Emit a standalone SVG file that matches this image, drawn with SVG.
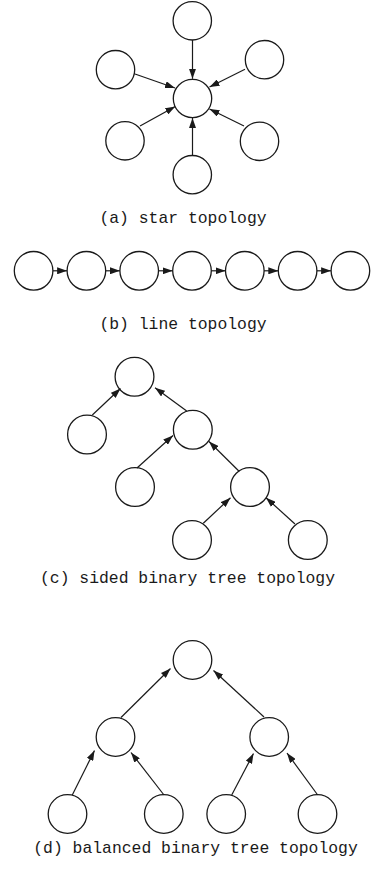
<svg xmlns="http://www.w3.org/2000/svg" width="372" height="870" viewBox="0 0 372 870">
  <style>
    .node { fill: #ffffff; stroke: #1a1a1a; stroke-width: 1.3; }
    .edge { fill: none; stroke: #1a1a1a; stroke-width: 1.2; marker-end: url(#head); }
    .caption { font-family: "Liberation Mono", "DejaVu Sans Mono", monospace; font-size: 16.4px; fill: #1a1a1a; text-anchor: middle; }
  </style>
  <defs>
    <marker id="head" markerUnits="userSpaceOnUse" markerWidth="10" markerHeight="7" refX="10" refY="3.5" orient="auto">
      <path d="M0,0 L10,3.5 L0,7 Z" fill="#1a1a1a"/>
    </marker>
  </defs>
  <rect width="372" height="870" fill="#ffffff"/>

  <!-- (a) star topology -->
  <g id="star-hub"><circle class="node" cx="192.5" cy="98.5" r="19.2"/></g>
  <g id="star-n"><circle class="node" cx="192.3" cy="20.8" r="19.2"/></g>
  <g id="star-ne"><circle class="node" cx="264.5" cy="59.7" r="19.2"/></g>
  <g id="star-nw"><circle class="node" cx="115.5" cy="69.7" r="19.2"/></g>
  <g id="star-sw"><circle class="node" cx="125" cy="140.8" r="19.2"/></g>
  <g id="star-se"><circle class="node" cx="259.5" cy="141.3" r="19.2"/></g>
  <g id="star-s"><circle class="node" cx="192.3" cy="174.7" r="19.2"/></g>

  <!-- (b) line topology -->
  <g id="line-1"><circle class="node" cx="33.6" cy="270.8" r="19.3"/></g>
  <g id="line-2"><circle class="node" cx="86.4" cy="270.8" r="19.3"/></g>
  <g id="line-3"><circle class="node" cx="139.2" cy="270.8" r="19.3"/></g>
  <g id="line-4"><circle class="node" cx="192" cy="270.8" r="19.3"/></g>
  <g id="line-5"><circle class="node" cx="244.8" cy="270.8" r="19.3"/></g>
  <g id="line-6"><circle class="node" cx="297.6" cy="270.8" r="19.3"/></g>
  <g id="line-7"><circle class="node" cx="350.4" cy="270.8" r="19.3"/></g>

  <!-- (c) sided binary tree topology -->
  <g id="sided-root"><circle class="node" cx="134.5" cy="376.7" r="19.4"/></g>
  <g id="sided-l1"><circle class="node" cx="87" cy="434.5" r="19.4"/></g>
  <g id="sided-r1"><circle class="node" cx="192.8" cy="429.8" r="19.4"/></g>
  <g id="sided-l2"><circle class="node" cx="135" cy="487" r="19.4"/></g>
  <g id="sided-r2"><circle class="node" cx="250" cy="487" r="19.4"/></g>
  <g id="sided-l3"><circle class="node" cx="192" cy="540" r="19.4"/></g>
  <g id="sided-r3"><circle class="node" cx="307.8" cy="540" r="19.4"/></g>

  <!-- (d) balanced binary tree topology -->
  <g id="bal-root"><circle class="node" cx="192.5" cy="660" r="19.3"/></g>
  <g id="bal-l"><circle class="node" cx="115.5" cy="737" r="19.3"/></g>
  <g id="bal-r"><circle class="node" cx="269.2" cy="737" r="19.3"/></g>
  <g id="bal-ll"><circle class="node" cx="67.5" cy="814" r="19.3"/></g>
  <g id="bal-lr"><circle class="node" cx="163.8" cy="814" r="19.3"/></g>
  <g id="bal-rl"><circle class="node" cx="226.2" cy="814" r="19.3"/></g>
  <g id="bal-rr"><circle class="node" cx="317.5" cy="814" r="19.3"/></g>

  <g id="connectors">
    <!-- star: every leaf points at the hub -->
    <line class="edge" x1="192.5" y1="40" x2="192.5" y2="78.8"/>
    <line class="edge" x1="245" y1="69.3" x2="209.5" y2="87"/>
    <line class="edge" x1="135" y1="74" x2="175" y2="88"/>
    <line class="edge" x1="140" y1="126" x2="175.3" y2="106.5"/>
    <line class="edge" x1="244" y1="126" x2="209.5" y2="109"/>
    <line class="edge" x1="192.5" y1="155.5" x2="192.5" y2="118"/>

    <!-- line: chain left to right -->
    <line class="edge" x1="52.9" y1="270.8" x2="67.1" y2="270.8"/>
    <line class="edge" x1="105.7" y1="270.8" x2="119.9" y2="270.8"/>
    <line class="edge" x1="158.5" y1="270.8" x2="172.7" y2="270.8"/>
    <line class="edge" x1="211.3" y1="270.8" x2="225.5" y2="270.8"/>
    <line class="edge" x1="264.1" y1="270.8" x2="278.3" y2="270.8"/>
    <line class="edge" x1="316.9" y1="270.8" x2="331.1" y2="270.8"/>

    <!-- sided tree: children point at parents -->
    <line class="edge" x1="92.3" y1="415" x2="120.5" y2="388.5"/>
    <line class="edge" x1="186.7" y1="411" x2="155" y2="387.7"/>
    <line class="edge" x1="137" y1="468" x2="173" y2="435.5"/>
    <line class="edge" x1="239.3" y1="471.5" x2="209" y2="441.5"/>
    <line class="edge" x1="203.3" y1="523.3" x2="230.5" y2="497.7"/>
    <line class="edge" x1="295" y1="524" x2="266" y2="497.7"/>

    <!-- balanced tree: children point at parents -->
    <line class="edge" x1="121" y1="717.5" x2="170.5" y2="668.5"/>
    <line class="edge" x1="264" y1="717" x2="213.5" y2="670.5"/>
    <line class="edge" x1="72.3" y1="795" x2="94.5" y2="750.5"/>
    <line class="edge" x1="164" y1="795" x2="131" y2="752.5"/>
    <line class="edge" x1="231.7" y1="795" x2="253.5" y2="753.5"/>
    <line class="edge" x1="317.7" y1="795" x2="287" y2="753"/>
  </g>

  <text class="caption" x="183" y="223">(a) star topology</text>
  <text class="caption" x="183" y="329.3">(b) line topology</text>
  <text class="caption" x="187.5" y="583.3">(c) sided binary tree topology</text>
  <text class="caption" x="195.5" y="853">(d) balanced binary tree topology</text>
</svg>
